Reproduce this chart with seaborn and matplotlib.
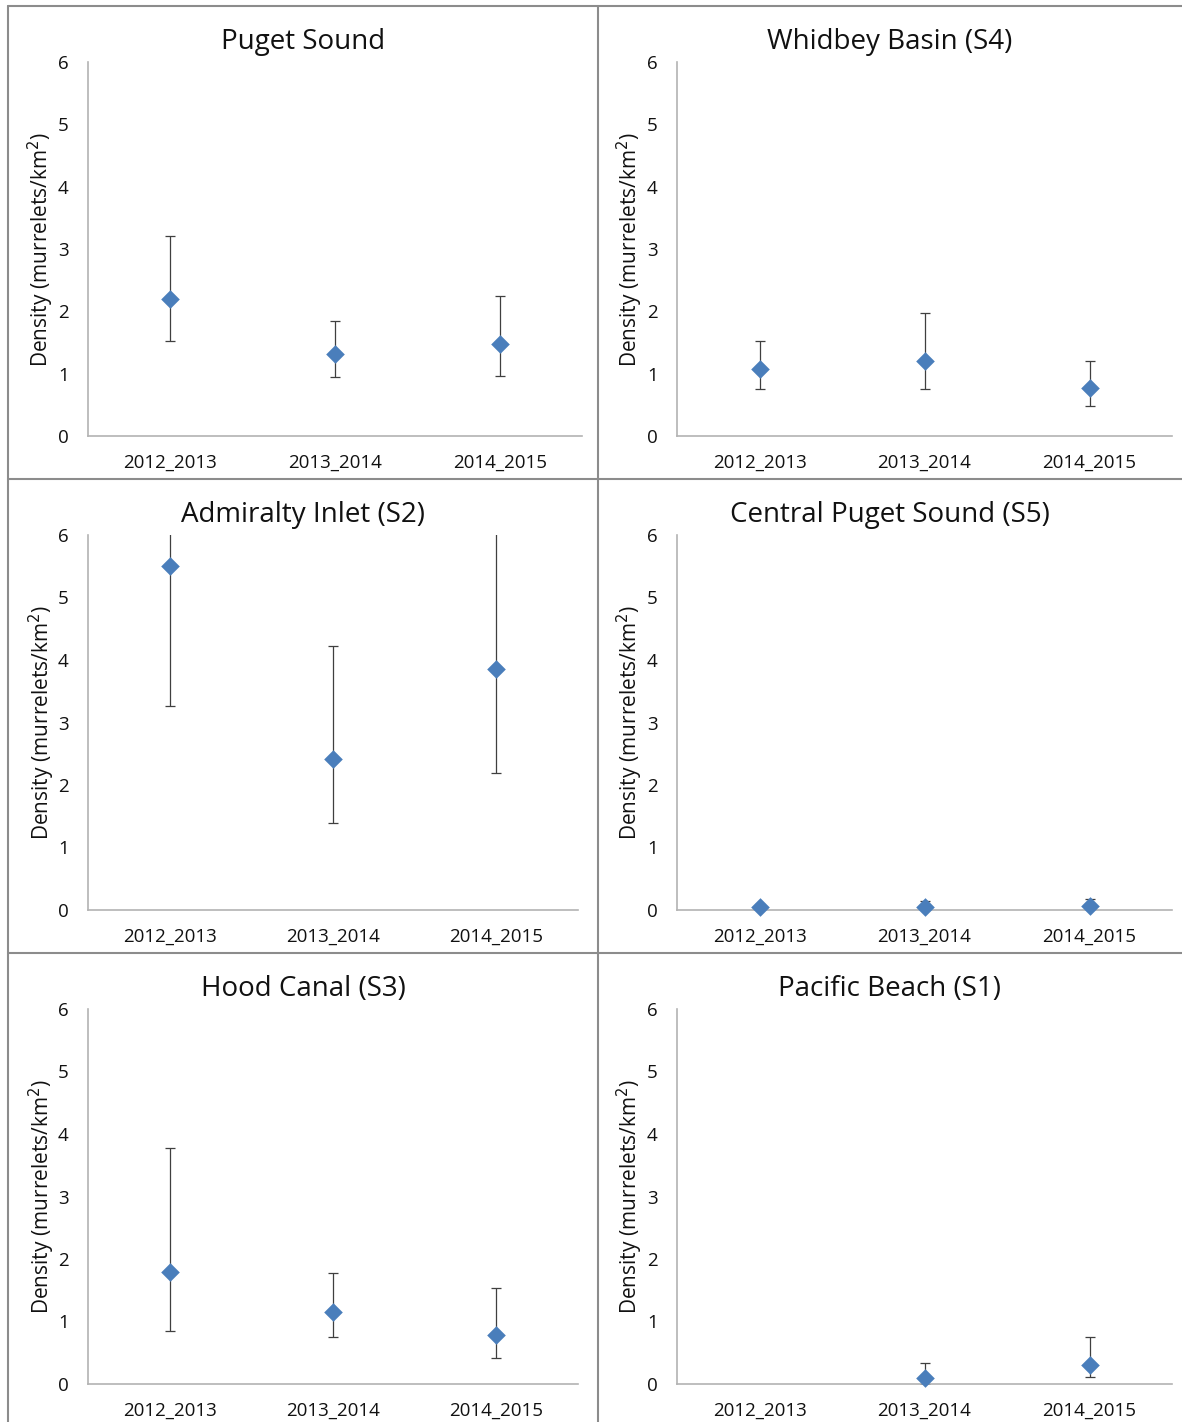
import numpy as np
import pandas as pd
import seaborn as sns
import matplotlib.pyplot as plt
from matplotlib.lines import Line2D

# ---- data ----
seasons = ["2012_2013", "2013_2014", "2014_2015"]
panel_titles = [
    "Puget Sound", "Whidbey Basin (S4)",
    "Admiralty Inlet (S2)", "Central Puget Sound (S5)",
    "Hood Canal (S3)", "Pacific Beach (S1)",
]
puget_mean = [2.20, 1.31, 1.47]
puget_low = [1.52, 0.95, 0.97]
puget_high = [3.21, 1.84, 2.25]

whidbey_mean = [1.08, 1.21, 0.77]
whidbey_low = [0.76, 0.76, 0.48]
whidbey_high = [1.52, 1.98, 1.21]

admiralty_mean = [5.50, 2.42, 3.85]
admiralty_low = [3.27, 1.40, 2.20]
admiralty_high = [6.60, 4.22, 6.80]  # upper bounds clipped by the 0-6 axis

central_mean = [0.05, 0.05, 0.07]
central_low = [0.02, 0.02, 0.02]
central_high = [0.10, 0.14, 0.18]

hood_mean = [1.79, 1.15, 0.78]
hood_low = [0.85, 0.75, 0.41]
hood_high = [3.77, 1.77, 1.53]

pacific_mean = [np.nan, 0.10, 0.30]
pacific_low = [np.nan, 0.00, 0.12]
pacific_high = [np.nan, 0.33, 0.75]

panels = [
    (puget_mean, puget_low, puget_high),
    (whidbey_mean, whidbey_low, whidbey_high),
    (admiralty_mean, admiralty_low, admiralty_high),
    (central_mean, central_low, central_high),
    (hood_mean, hood_low, hood_high),
    (pacific_mean, pacific_low, pacific_high),
]

sns.set_theme(style="white")
plt.rcParams["font.family"] = ["Open Sans", "DejaVu Sans"]

W, H = 1182, 1422
fig = plt.figure(figsize=(W / 100, H / 100), dpi=100)

# axes boxes in pixels
col_x = [[(88, 582), (88, 578), (88, 578)], [(677, 1172)] * 3]
row_y = [(436, 62), (910, 535), (1384, 1009)]
panel_top = [6, 479, 953]
panel_cx = [303, 890]

MARKER = "#4A7EBB"
SPINE = "#B3B3B3"
TXT = "#111111"

for i, (title, (mean, low, high)) in enumerate(zip(panel_titles, panels)):
    r, c = divmod(i, 2)
    x0, x1 = col_x[c][r]
    yb, yt = row_y[r]
    ax = fig.add_axes([x0 / W, 1 - yb / H, (x1 - x0) / W, (yb - yt) / H])

    df = pd.DataFrame({"season": seasons, "density": mean,
                       "low": low, "high": high})
    df["pos"] = np.arange(len(seasons))
    err = np.vstack([df["density"] - df["low"], df["high"] - df["density"]])

    ax.errorbar(df["pos"], df["density"], yerr=err, fmt="none",
                ecolor="#3F3F3F", elinewidth=0.9, capsize=3.5,
                capthick=0.9, zorder=2)
    sns.scatterplot(data=df, x="pos", y="density", marker="D", s=90,
                    color=MARKER, edgecolor=MARKER, linewidth=0,
                    ax=ax, zorder=3, clip_on=False)

    ax.set_xlim(-0.5, 2.5)
    ax.set_ylim(0, 6)
    ax.set_yticks(range(7))
    ax.set_xticks(df["pos"])
    ax.set_xticklabels(seasons)
    ax.set_xticks([-0.5, 0.5, 1.5, 2.5], minor=True)
    ax.tick_params(axis="x", which="major", length=0, labelsize=13.5,
                   pad=13, labelcolor=TXT)
    ax.tick_params(axis="x", which="minor", length=5, width=1,
                   color=SPINE, direction="out")
    ax.tick_params(axis="y", length=5, width=1, color=SPINE,
                   direction="out", labelsize=13.5, pad=9, labelcolor=TXT)
    ax.set_xlabel("")
    ax.set_ylabel("Density (murrelets/km$^2$)", fontsize=15, color=TXT)
    ax.yaxis.set_label_coords(-0.064, 0.5)
    for side in ("top", "right"):
        ax.spines[side].set_visible(False)
    for side in ("left", "bottom"):
        ax.spines[side].set_color(SPINE)
        ax.spines[side].set_linewidth(1.2)
    ax.patch.set_alpha(0)

    fig.text(panel_cx[c] / W, 1 - (panel_top[r] + 36) / H, title,
             ha="center", va="center", fontsize=20, color=TXT)

# panel frame lines
frame = "#8C8C8C"
def px_line(xs, ys):
    fig.add_artist(Line2D([x / W for x in xs], [1 - y / H for y in ys],
                          color=frame, linewidth=1.5))

px_line([8, W], [6, 6])
px_line([8, 8], [6, H])
px_line([598, 598], [6, H])
px_line([8, W], [479, 479])
px_line([8, W], [953, 953])

fig.savefig("out.png", dpi=100)
